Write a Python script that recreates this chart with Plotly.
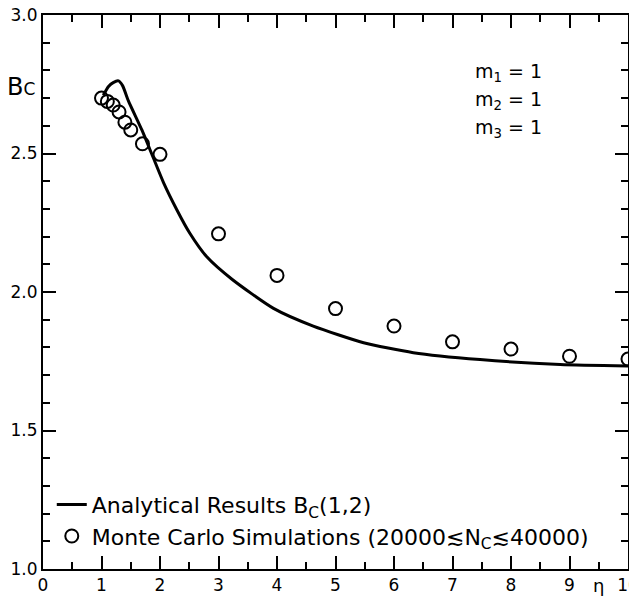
import plotly.graph_objects as go

# Analytical curve Bc(1,2)
curve_eta = [1.03, 1.12, 1.2, 1.29, 1.36, 1.46, 1.69, 1.875, 2.06, 2.285, 2.51, 2.80, 3.23, 3.94, 4.62, 5.48, 6.33, 7.47, 8.84, 10.0]
curve_bc = [2.71, 2.742, 2.756, 2.762, 2.745, 2.69, 2.585, 2.49, 2.395, 2.298, 2.212, 2.127, 2.046, 1.941, 1.877, 1.817, 1.781, 1.756, 1.738, 1.733]

# Monte Carlo simulations
mc_eta = [1.0, 1.1, 1.2, 1.3, 1.4, 1.5, 1.7, 2.0, 3.0, 4.0, 5.0, 6.0, 7.0, 8.0, 9.0, 10.0]
mc_bc = [2.70, 2.688, 2.675, 2.65, 2.613, 2.585, 2.535, 2.497, 2.21, 2.06, 1.94, 1.877, 1.82, 1.794, 1.768, 1.758]

x_ticks = list(range(0, 11))
y_ticks = [1.0, 1.5, 2.0, 2.5, 3.0]
m_labels = ["m<sub>1</sub> = 1", "m<sub>2</sub> = 1", "m<sub>3</sub> = 1"]

FONT = "DejaVu Sans"

fig = go.Figure()
fig.add_trace(go.Scatter(
    x=curve_eta, y=curve_bc, mode="lines",
    line=dict(color="black", width=3, shape="spline", smoothing=0.6),
    name="Analytical Results B<sub>C</sub>(1,2)",
))
fig.add_trace(go.Scatter(
    x=mc_eta, y=mc_bc, mode="markers",
    marker=dict(symbol="circle-open", size=13, color="black", line=dict(width=2, color="black")),
    name="Monte Carlo Simulations (20000≲N<sub>C</sub>≲40000)",
    cliponaxis=False,
))

axis_common = dict(
    showline=True, linecolor="black", linewidth=2, mirror="ticks",
    ticks="inside", tickcolor="black", tickwidth=1.5, ticklen=13,
    showgrid=False, zeroline=False, automargin=False,
    ticklabeloverflow="allow",
    tickfont=dict(family=FONT, size=17, color="black"),
)

fig.update_xaxes(
    range=[0, 10], tickvals=x_ticks, ticktext=[str(v) for v in x_ticks],
    minor=dict(dtick=0.5, ticks="inside", ticklen=7, tickcolor="black", tickwidth=1.5, showgrid=False),
    **axis_common,
)
fig.update_yaxes(
    range=[1, 3], tickvals=y_ticks, ticktext=[f"{v:.1f}" for v in y_ticks],
    minor=dict(dtick=0.1, ticks="inside", ticklen=7, tickcolor="black", tickwidth=1.5, showgrid=False),
    **axis_common,
)

fig.add_annotation(
    xref="paper", yref="paper", x=-0.038, y=0.87, xanchor="center", yanchor="middle",
    text="B<span style='font-size:17px'>C</span>", showarrow=False,
    font=dict(family=FONT, size=24, color="black"),
)
for i, lab in enumerate(m_labels):
    fig.add_annotation(
        xref="paper", yref="paper", x=0.735, y=0.897 - 0.0505 * i, xanchor="left", yanchor="middle",
        text=lab, showarrow=False, align="left",
        font=dict(family=FONT, size=19, color="black"),
    )
fig.add_annotation(
    xref="x", yref="paper", x=9.5, y=-0.03, xanchor="center", yanchor="middle",
    text="η", showarrow=False,
    font=dict(family=FONT, size=18, color="black"),
)

# page body has an 8px margin, so the figure is sized/margined to compensate
fig.update_layout(
    width=629, height=590,
    margin=dict(l=35, r=9, t=7, b=29),
    paper_bgcolor="white", plot_bgcolor="white",
    showlegend=True,
    legend=dict(
        x=0.015, y=0.0206, xanchor="left", yanchor="bottom",
        bgcolor="rgba(0,0,0,0)", font=dict(family=FONT, size=22, color="black"),
        tracegroupgap=0,
    ),
)

fig.write_html("out.html")
